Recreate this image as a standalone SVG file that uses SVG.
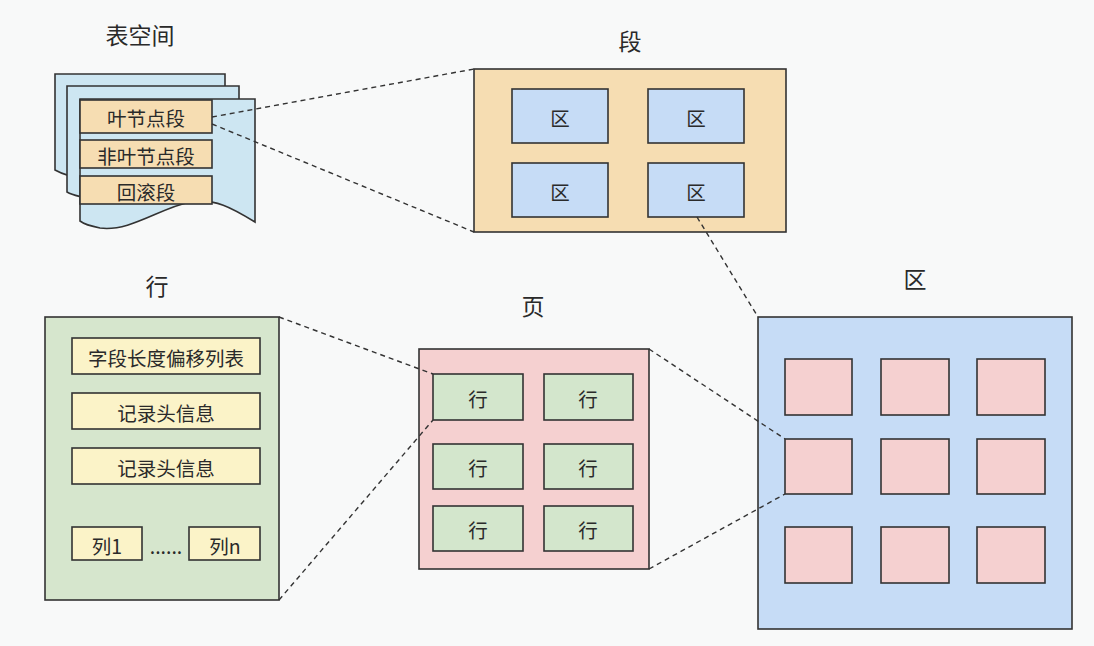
<svg xmlns="http://www.w3.org/2000/svg" width="1094" height="646" viewBox="0 0 1094 646">
<style>
text{font-family:"Noto Sans CJK SC","Noto Sans",sans-serif;fill:#2a2a2a;text-anchor:middle;dominant-baseline:central}
.title{font-size:23px}
.lbl{font-size:19.5px}
.b{stroke:#333;stroke-width:1.6}
.sheet{fill:#cde6f2}
.seg{fill:#f6ddb2}
.blue{fill:#c6dcf6}
.green{fill:#d6e6cd}
.yel{fill:#fbf3c8}
.pink{fill:#f5d0d0}
.rowg{fill:#d3e6cc}
.dash{fill:none;stroke:#333;stroke-width:1.4;stroke-dasharray:5 4}
</style>
<rect width="1094" height="646" fill="#f8f9f9"/>

<g id="tablespace">
<text class="title" x="140" y="34">表空间</text>
<path class="sheet b" d="M55,74 H225 V190 C180,175 120,185 90,180 C75,178 62,174 55,170 Z"/>
<path class="sheet b" d="M67,86 H239 V205 C200,190 140,205 100,200 C85,198 74,196 67,192 Z"/>
<path class="sheet b" d="M80,99 H255 V222 C232,208 215,198 190,202 C160,208 130,232 100,228 C90,226 84,224 80,221 Z"/>
<rect class="seg b" x="80" y="100" width="132" height="33"/>
<text class="lbl" x="146" y="117">叶节点段</text>
<rect class="seg b" x="80" y="140" width="132" height="28"/>
<text class="lbl" x="146" y="155">非叶节点段</text>
<rect class="seg b" x="80" y="176" width="132" height="28"/>
<text class="lbl" x="146" y="191">回滚段</text>
</g>

<g id="segment">
<text class="title" x="630" y="40">段</text>
<rect class="seg b" x="474" y="69" width="312" height="163"/>
<rect class="blue b" x="512" y="89" width="96" height="54"/>
<text class="lbl" x="560" y="117">区</text>
<rect class="blue b" x="648" y="89" width="96" height="54"/>
<text class="lbl" x="696" y="117">区</text>
<rect class="blue b" x="512" y="163" width="96" height="54"/>
<text class="lbl" x="560" y="191">区</text>
<rect class="blue b" x="648" y="163" width="96" height="54"/>
<text class="lbl" x="696" y="191">区</text>
</g>

<g id="row">
<text class="title" x="157" y="285">行</text>
<rect class="green b" x="45" y="317" width="234" height="283"/>
<rect class="yel b" x="72" y="338" width="188" height="36"/>
<text class="lbl" x="166" y="357">字段长度偏移列表</text>
<rect class="yel b" x="72" y="393" width="188" height="36"/>
<text class="lbl" x="166" y="412">记录头信息</text>
<rect class="yel b" x="72" y="448" width="188" height="36"/>
<text class="lbl" x="166" y="467">记录头信息</text>
<rect class="yel b" x="72" y="527" width="70" height="33"/>
<text class="lbl" x="107" y="545">列1</text>
<text class="lbl" x="166" y="545" font-size="16">......</text>
<rect class="yel b" x="189" y="527" width="71" height="33"/>
<text class="lbl" x="225" y="545">列n</text>
</g>

<g id="page">
<text class="title" x="533" y="305">页</text>
<rect class="pink b" x="419" y="349" width="230" height="220"/>
<rect class="rowg b" x="433" y="374" width="90" height="46" stroke-width="2.2"/>
<text class="lbl" x="478" y="398">行</text>
<rect class="rowg b" x="544" y="374" width="89" height="46"/>
<text class="lbl" x="588" y="398">行</text>
<rect class="rowg b" x="433" y="444" width="90" height="45"/>
<text class="lbl" x="478" y="467">行</text>
<rect class="rowg b" x="544" y="444" width="89" height="45"/>
<text class="lbl" x="588" y="467">行</text>
<rect class="rowg b" x="433" y="506" width="90" height="45"/>
<text class="lbl" x="478" y="529">行</text>
<rect class="rowg b" x="544" y="506" width="89" height="45"/>
<text class="lbl" x="588" y="529">行</text>
</g>

<g id="extent">
<text class="title" x="915" y="278">区</text>
<rect class="blue b" x="758" y="317" width="314" height="312"/>
<rect class="pink b" x="785" y="359" width="67" height="56"/>
<rect class="pink b" x="881" y="359" width="68" height="56"/>
<rect class="pink b" x="977" y="359" width="68" height="56"/>
<rect class="pink b" x="785" y="439" width="67" height="55"/>
<rect class="pink b" x="881" y="439" width="68" height="55"/>
<rect class="pink b" x="977" y="439" width="68" height="55"/>
<rect class="pink b" x="785" y="527" width="67" height="56"/>
<rect class="pink b" x="881" y="527" width="68" height="56"/>
<rect class="pink b" x="977" y="527" width="68" height="56"/>
</g>

<g id="connectors">
<line class="dash" x1="212" y1="117" x2="474" y2="69"/>
<line class="dash" x1="212" y1="124" x2="474" y2="232"/>
<line class="dash" x1="697" y1="217" x2="758" y2="317"/>
<line class="dash" x1="279" y1="317" x2="433" y2="374"/>
<line class="dash" x1="279" y1="600" x2="433" y2="420"/>
<line class="dash" x1="649" y1="349" x2="785" y2="439"/>
<line class="dash" x1="649" y1="569" x2="785" y2="494"/>
</g>
</svg>
